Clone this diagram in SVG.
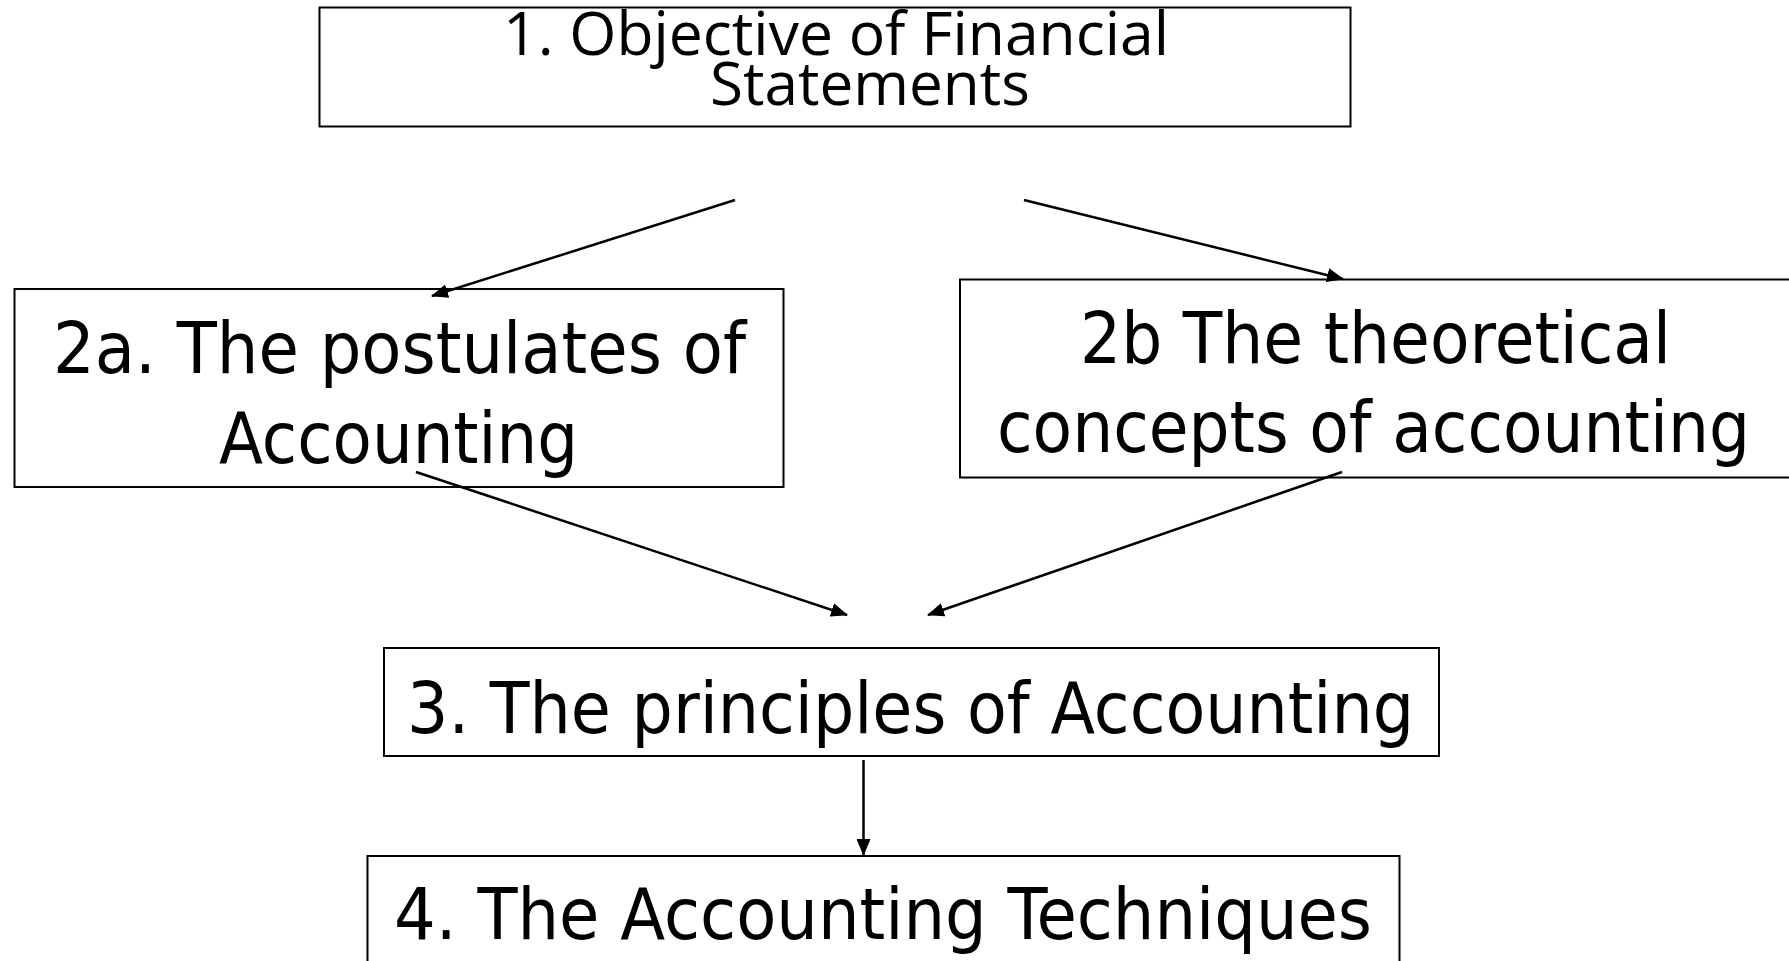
<svg xmlns="http://www.w3.org/2000/svg" width="1789" height="961" viewBox="0 0 1789 961">
<style>
.box{fill:#fff;stroke:#000;stroke-width:2}
.t1{font-family:"Open Sans","Liberation Sans",sans-serif;font-size:60px;fill:#000}
.t{font-family:"DejaVu Sans","Liberation Sans",sans-serif;font-size:72px;fill:#000}
.c{fill:none;stroke:#000;stroke-width:2.5}
</style>
<defs>
<marker id="ah" markerUnits="userSpaceOnUse" markerWidth="17" markerHeight="14" refX="16" refY="7" orient="auto">
<path d="M0,0 L17,7 L0,14 z" fill="#000"/>
</marker>
</defs>
<rect width="1789" height="961" fill="#fff"/>
<g id="n1">
<rect class="box" x="319.5" y="7.5" width="1031" height="119"/>
<text class="t1" x="503" y="55" textLength="666" lengthAdjust="spacingAndGlyphs">1. Objective of Financial</text>
<text class="t1" x="710" y="105" textLength="320" lengthAdjust="spacingAndGlyphs">Statements</text>
</g>
<g id="n2a">
<rect class="box" x="14.5" y="289" width="769" height="198"/>
<text class="t" x="53" y="373" textLength="693" lengthAdjust="spacingAndGlyphs">2a. The postulates of</text>
<text class="t" x="219" y="463" textLength="359" lengthAdjust="spacingAndGlyphs">Accounting</text>
</g>
<g id="n2b">
<rect class="box" x="960" y="279.5" width="840" height="198"/>
<text class="t" x="1080" y="363" textLength="591" lengthAdjust="spacingAndGlyphs">2b The theoretical</text>
<text class="t" x="997" y="452" textLength="753" lengthAdjust="spacingAndGlyphs">concepts of accounting</text>
</g>
<g id="n3">
<rect class="box" x="384" y="648" width="1055" height="108"/>
<text class="t" x="407" y="733" textLength="1007" lengthAdjust="spacingAndGlyphs">3. The principles of Accounting</text>
</g>
<g id="n4">
<rect class="box" x="367.5" y="856" width="1032" height="120"/>
<text class="t" x="394" y="939" textLength="978" lengthAdjust="spacingAndGlyphs">4. The Accounting Techniques</text>
</g>
<g id="connectors">
<line class="c" x1="735" y1="200" x2="432" y2="296" marker-end="url(#ah)"/>
<line class="c" x1="1024" y1="200" x2="1343" y2="279" marker-end="url(#ah)"/>
<line class="c" x1="416" y1="472" x2="847" y2="615" marker-end="url(#ah)"/>
<line class="c" x1="1342" y1="472" x2="928" y2="615" marker-end="url(#ah)"/>
<line class="c" x1="863.5" y1="760" x2="863.5" y2="855" marker-end="url(#ah)"/>
</g>
</svg>
